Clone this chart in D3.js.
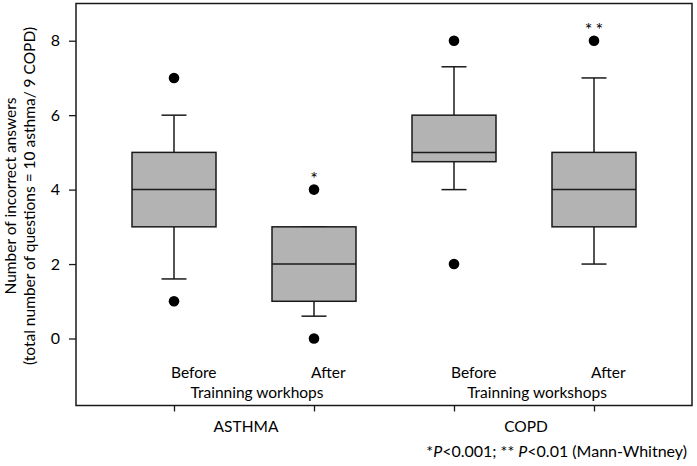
<!DOCTYPE html>
<html lang="en">
<head>
<meta charset="utf-8">
<title>Incorrect answers before / after training</title>
<script src="https://d3js.org/d3.v7.min.js"></script>
<style>
  body { margin: 0; background: #fff; }
  svg { display: block; font-family: Lato, "Open Sans", sans-serif; }
  .box { fill: #b3b3b3; stroke: #1a1a1a; stroke-width: 1.5px; }
  .whisker, .median { stroke: #1a1a1a; stroke-width: 1.5px; }
  .frame { fill: none; stroke: #1a1a1a; stroke-width: 1.5px; }
  .axis .domain { display: none; }
  .axis line { stroke: #1a1a1a; stroke-width: 1.3px; }
  .axis text { font-size: 16px; fill: #000; font-family: Lato, "Open Sans", sans-serif; }
  .lbl { font-size: 15.5px; fill: #000; }
  .foot { font-size: 16px; fill: #000; }
</style>
</head>
<body>
<div id="chart"></div>
<script>
// ---- data
var boxNames    = ["ASTHMA Before", "ASTHMA After", "COPD Before", "COPD After"];
var phases      = ["Before", "After", "Before", "After"];
var groups      = ["ASTHMA", "COPD"];
var groupNotes  = ["Trainning workhops", "Trainning workshops"];
var whiskerLow  = [1.6, 0.6, 4, 2];
var q1          = [3, 1, 4.75, 3];
var median      = [4, 2, 5, 4];
var q3          = [5, 3, 6, 5];
var whiskerHigh = [6, 3, 7.3, 7];
var outliers    = [[1, 7], [0, 4], [2, 8], [8]];
var signif      = ["", "*", "", "**"];
var yTicks      = [0, 2, 4, 6, 8];

var width = 697, height = 466;
var m = {top: 3.5, right: 5, bottom: 60.5, left: 76},
    w = width - m.left - m.right,
    h = height - m.top - m.bottom;

var svg = d3.select("#chart").append("svg")
    .attr("width", width)
    .attr("height", height);

svg.append("rect").attr("width", width).attr("height", height).attr("fill", "#fff");

var g = svg.append("g").attr("transform", "translate(" + m.left + "," + m.top + ")");

var x = d3.scalePoint().domain(boxNames).range([0, w]).padding(0.7);
var y = d3.scaleLinear().domain([-1.8, 9]).range([h, 0]);

var boxW = x.step() * 0.6, capW = 25;

var data = boxNames.map(function(d, i) {
  return {name: d, phase: phases[i], lo: whiskerLow[i], q1: q1[i], med: median[i],
          q3: q3[i], hi: whiskerHigh[i], out: outliers[i], sig: signif[i]};
});

// axes
g.append("g")
    .attr("class", "axis")
    .call(d3.axisLeft(y).tickValues(yTicks).tickSize(7).tickPadding(9));

g.append("g")
    .attr("class", "axis")
    .attr("transform", "translate(0," + h + ")")
    .call(d3.axisBottom(x).tickSize(6).tickFormat(""));

// boxes
var b = g.selectAll(".bx").data(data).enter().append("g")
    .attr("class", "bx")
    .attr("transform", function(d) { return "translate(" + x(d.name) + ",0)"; });

b.append("line").attr("class", "whisker")
    .attr("y1", function(d) { return y(d.hi); }).attr("y2", function(d) { return y(d.q3); });
b.append("line").attr("class", "whisker")
    .attr("y1", function(d) { return y(d.lo); }).attr("y2", function(d) { return y(d.q1); });
b.append("line").attr("class", "whisker")
    .attr("x1", -capW / 2).attr("x2", capW / 2)
    .attr("y1", function(d) { return y(d.hi); }).attr("y2", function(d) { return y(d.hi); });
b.append("line").attr("class", "whisker")
    .attr("x1", -capW / 2).attr("x2", capW / 2)
    .attr("y1", function(d) { return y(d.lo); }).attr("y2", function(d) { return y(d.lo); });

b.append("rect").attr("class", "box")
    .attr("x", -boxW / 2).attr("width", boxW)
    .attr("y", function(d) { return y(d.q3); })
    .attr("height", function(d) { return y(d.q1) - y(d.q3); });

b.append("line").attr("class", "median")
    .attr("x1", -boxW / 2).attr("x2", boxW / 2)
    .attr("y1", function(d) { return y(d.med); }).attr("y2", function(d) { return y(d.med); });

b.selectAll("circle").data(function(d) { return d.out; }).enter().append("circle")
    .attr("r", 5.3)
    .attr("cy", function(v) { return y(v); })
    .attr("fill", "#000");

b.append("text")
    .attr("text-anchor", "middle")
    .attr("font-size", 18)
    .attr("letter-spacing", function(d) { return d.sig.length > 1 ? 3 : 0; })
    .attr("dx", function(d) { return d.sig.length > 1 ? 1.5 : 0; })
    .attr("y", function(d) { return y(d3.max(d.out)) - 5; })
    .text(function(d) { return d.sig; });

// frame
g.append("rect").attr("class", "frame").attr("width", w).attr("height", h);

// category labels
b.append("text").attr("class", "lbl")
    .attr("x", -3).attr("y", 374.5)
    .text(function(d) { return d.phase; });

var gc = groups.map(function(d, i) {
  return (x(boxNames[2 * i]) + x(boxNames[2 * i + 1])) / 2;
});

g.selectAll(".note").data(groupNotes).enter().append("text")
    .attr("class", "lbl")
    .attr("text-anchor", "middle")
    .attr("x", function(d, i) { return gc[i] + 13; })
    .attr("y", 394.8)
    .text(function(d) { return d; });

g.selectAll(".grp").data(groups).enter().append("text")
    .attr("class", "lbl")
    .attr("text-anchor", "middle")
    .attr("x", function(d, i) { return gc[i] + 2; })
    .attr("y", 428.5)
    .text(function(d) { return d; });

// y title
var yt = svg.append("g").attr("transform", "translate(0,196) rotate(-90)");
yt.append("text").attr("class", "lbl").attr("text-anchor", "middle").attr("y", 15.5)
    .text("Number of incorrect answers");
yt.append("text").attr("class", "lbl").attr("text-anchor", "middle").attr("y", 35)
    .text("(total number of questions = 10 asthma/ 9 COPD)");

// footnote
var fn = svg.append("text").attr("class", "foot")
    .attr("text-anchor", "end").attr("x", 687).attr("y", 457);
fn.append("tspan").text("*");
fn.append("tspan").attr("font-style", "italic").text("P");
fn.append("tspan").text("<0.001; ** ");
fn.append("tspan").attr("font-style", "italic").text("P");
fn.append("tspan").text("<0.01 (Mann-Whitney)");
</script>
</body>
</html>
